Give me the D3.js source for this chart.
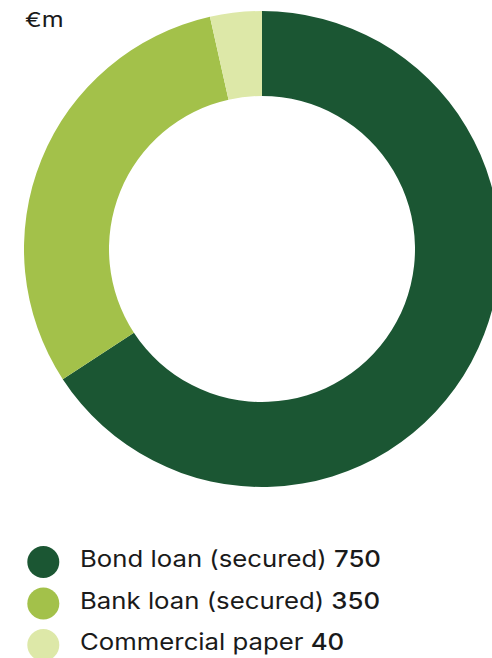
<!DOCTYPE html>
<html>
<head>
<meta charset="utf-8">
<script src="https://cdn.jsdelivr.net/npm/d3@7"></script>
<style>
  html, body { margin: 0; padding: 0; background: #fff; overflow: hidden; }
  svg { display: block; font-family: Inter, "Noto Sans", sans-serif; }
</style>
</head>
<body>
<svg id="chart" width="492" height="658"></svg>
<script>
// Financing structure, €m
const categories = ["Bond loan (secured)", "Bank loan (secured)", "Commercial paper"];
const values = [750, 350, 40];
const colors = ["#1b5633", "#a3c14a", "#dde8a8"];
const unitLabel = "€m";

const svg = d3.select("#chart");
const cx = 262, cy = 249, outerR = 238, innerR = 153;

const pie = d3.pie().sort(null).value(d => d.value);
const arcs = pie(categories.map((c, i) => ({ name: c, value: values[i], color: colors[i] })));
const arc = d3.arc().innerRadius(innerR).outerRadius(outerR);

svg.append("g")
  .attr("transform", `translate(${cx},${cy})`)
  .selectAll("path")
  .data(arcs)
  .join("path")
  .attr("d", arc)
  .attr("fill", d => d.data.color);

// Unit label, set slightly wide
svg.append("text")
  .attr("transform", "translate(25,26.5) scale(1.22,1)")
  .attr("font-size", 20.5)
  .attr("fill", "#1a1a1a")
  .text(unitLabel);

// Legend
const legend = svg.append("g");
const rowY = d3.scalePoint().domain(categories).range([562, 645]);
const rows = legend.selectAll("g")
  .data(arcs)
  .join("g")
  .attr("transform", d => `translate(0,${rowY(d.data.name)})`);

rows.append("circle")
  .attr("cx", 43.3).attr("cy", 0).attr("r", 16)
  .attr("fill", d => d.data.color);

const txt = rows.append("text")
  .attr("transform", "translate(80,5) scale(1.12,1)")
  .attr("font-size", 23)
  .attr("fill", "#1a1a1a");
txt.append("tspan").text(d => d.data.name + " ");
txt.append("tspan").attr("font-weight", 500).text(d => d.data.value);
</script>
</body>
</html>
